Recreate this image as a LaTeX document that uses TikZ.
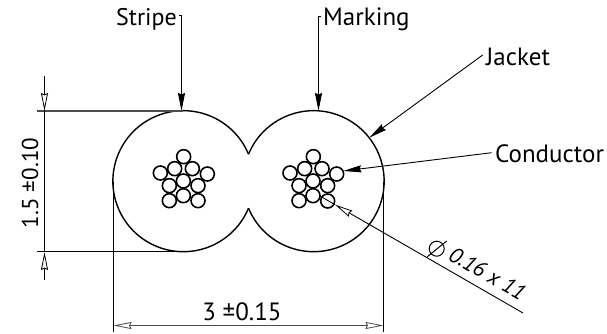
\documentclass[tikz,border=0pt]{standalone}
\usepackage{fontspec}
\setmainfont{PT Sans}
\usetikzlibrary{arrows.meta}
\definecolor{dimgray}{gray}{0.3}
\tikzset{
  x=1pt,y=1pt,
  label text/.style={inner sep=0pt,font=\fontsize{25}{28}\selectfont,text=black},
  solidtip/.tip={Stealth[length=18pt,width=7pt,inset=1.5pt]},
  opentip/.tip={Stealth[length=18pt,width=7pt,inset=1.5pt,fill=white,line width=0.8pt]},
  leader/.style={line width=0.9pt,black,-solidtip},
  dimline/.style={line width=0.9pt,black},
  strand/.style={circle,draw=black,line width=1.6pt,minimum size=14pt,inner sep=0pt},
  outline/.style={line width=1.4pt,black},
}
\begin{document}
\begin{tikzpicture}
\useasboundingbox (0,0) rectangle (607,333);
% jacket outline
\draw[outline] (248.5,178.8) arc[start angle=22.5,end angle=337.5,radius=70.5];
\draw[outline] (248.5,178.8) arc[start angle=157.5,end angle=-157.5,radius=70.5];
% labels
\node[label text,anchor=base west,font=\fontsize{24}{28}\selectfont] (stripe) at (116,308) {Stripe};
\node[label text,anchor=base west] (marking) at (323,308) {Marking};
\node[label text,anchor=base west] (jacket) at (486,268) {Jacket};
\node[label text,anchor=base west] (conductor) at (495,171) {Conductor};
\node[label text,anchor=base] (wdim) at (242,13) {3 ±0.15};
\node[label text,anchor=base,rotate=90,font=\fontsize{23}{26}\selectfont] (hdim) at (38,150) {1.5 ±0.10};
\node[label text,anchor=base west,rotate=-30,font=\fontsize{22}{26}\selectfont\itshape] (size) at (447,74) {0.16 x 11};
% strands
\foreach \n/\a/\b in {a/161/80,b/91/129,c/232/132,d/118/212,e/204/212,f/134/116,g/187/116,h/118/167,i/204/167,j/160/197,k/160/153}{
  \node[strand] (L\n) at ({130+\a/3},{333-130-\b/3}) {};
}
\foreach \n/\a/\b in {a/160/80,b/90/129,c/230/132,d/117/212,e/203/213,f/134/116,g/186/116,h/117/167,i/203/167,j/159/197,k/159/153}{
  \node[strand] (R\n) at ({260+\a/3},{333-130-\b/3}) {};
}
% free ends
\coordinate (stripeTick) at (178.5,318);
\coordinate (stripeTip) at (181.5,222);
\coordinate (markTick) at (321,317);
\coordinate (markTip) at (318.5,222);
\coordinate (jacketEnd) at (482.7,278);
\coordinate (jacketTip) at (369.3,195.3);
\coordinate (condEnd) at (491.7,180.3);
\coordinate (condTip) at (343.3,162);
\coordinate (sizeStart) at (320,137);
\coordinate (sizeTip) at (335,128.3);
\coordinate (sizeEnd) at (523,20);
\coordinate (hTop) at (44.5,257);
\coordinate (hTopTip) at (44.5,222);
\coordinate (hBotTip) at (44.5,81);
\coordinate (hBot) at (44.5,53);
\coordinate (extTL) at (37,222);
\coordinate (extTR) at (183,222);
\coordinate (extBL) at (37,81.5);
\coordinate (extBR) at (183,81.5);
\coordinate (extL1) at (113.5,151.5);
\coordinate (extL2) at (113.5,1);
\coordinate (extR1) at (383.5,151.5);
\coordinate (extR2) at (383.5,1);
\coordinate (wL) at (113.5,7.5);
\coordinate (wR) at (383.5,7.5);
\coordinate (dia) at (436.7,84.3);
\coordinate (slashA) at (427.3,76.3);
\coordinate (slashB) at (446.7,92);
% connectors
\draw[leader] (stripeTick) -| (stripeTip);
\draw[leader] (markTick) -| (markTip);
\draw[leader] (jacketEnd) -- (jacketTip);
\draw[leader] (condEnd) -- (condTip);
\draw[line width=1.6pt,dimgray] (extTL) -- (extTR);
\draw[dimline] (extBL) -- (extBR);
\draw[dimline] (extL1) -- (extL2);
\draw[dimline] (extR1) -- (extR2);
\draw[dimline,-opentip] (hTop) -- (hTopTip);
\draw[dimline,-opentip] (hBot) -- (hBotTip);
\draw[dimline] (hTopTip) -- (hBotTip);
\draw[line width=1.6pt,dimgray,opentip-opentip] (wL) -- (wR);
\draw[dimline,-opentip] (sizeEnd) -- (sizeTip);
\draw[dimline] (sizeTip) -- (sizeStart);
% diameter symbol
\draw[line width=1pt] (dia) circle[radius=7.5];
\draw[line width=1pt] (slashA) -- (slashB);
\end{tikzpicture}
\end{document}
